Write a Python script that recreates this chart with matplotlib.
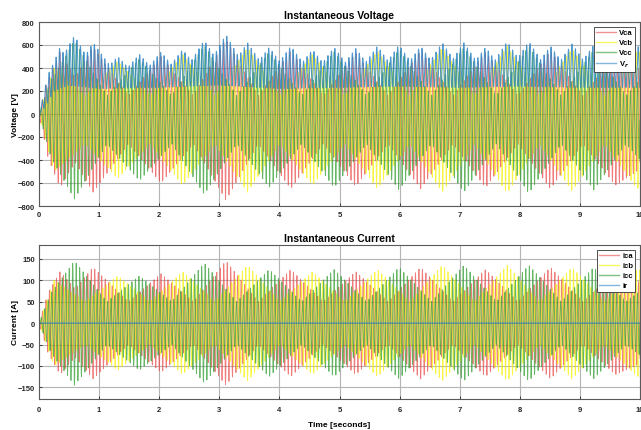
import numpy as np
import matplotlib
matplotlib.use("Agg")
import matplotlib.pyplot as plt

plt.rcParams['font.family'] = ['Liberation Sans', 'DejaVu Sans']
plt.rcParams['font.weight'] = 'bold'

# ---- data ----
# period of the fast oscillation of each trace (s), read from spike spacing
carrier_period = 0.058
t_end = 10.0

# current envelopes (A): (time, amplitude) keypoints per phase
ica_env_t = [0, 0.15, 0.35, 0.6, 0.9, 1.49, 2.03, 2.57, 3.11, 3.65, 4.19, 4.73, 5.27, 5.81, 6.35, 6.89, 7.43, 7.97, 8.51, 9.05, 9.59, 10]
ica_env_v = [0, 70, 120, 80, 130, 50, 115, 50, 145, 50, 125, 50, 120, 50, 130, 50, 125, 50, 130, 50, 120, 95]
icb_env_t = [0, 0.25, 0.77, 1.31, 1.85, 2.39, 2.93, 3.47, 4.01, 4.55, 5.09, 5.63, 6.17, 6.71, 7.25, 7.79, 8.33, 8.87, 9.41, 9.95, 10]
icb_env_v = [0, 100, 50, 110, 50, 120, 50, 135, 50, 120, 50, 125, 50, 135, 50, 135, 50, 130, 50, 125, 124]
icc_env_t = [0, 0.2, 0.59, 1.13, 1.67, 2.21, 2.75, 3.29, 3.83, 4.37, 4.91, 5.45, 5.99, 6.53, 7.07, 7.61, 8.15, 8.69, 9.23, 9.77, 10]
icc_env_v = [0, 70, 145, 50, 110, 50, 140, 50, 125, 50, 125, 50, 130, 50, 135, 50, 135, 50, 130, 50, 75]
ir_level = [0.0, 0.0]

# voltage envelopes (V): magnitude of the negative peaks per phase
vca_env_t = ica_env_t
vca_env_v = [0, 380, 640, 420, 680, 260, 600, 260, 750, 260, 650, 260, 630, 260, 650, 260, 640, 260, 650, 260, 620, 480]
vcb_env_t = icb_env_t
vcb_env_v = [0, 500, 260, 560, 260, 620, 260, 680, 260, 620, 260, 650, 260, 680, 260, 690, 260, 670, 260, 650, 640]
vcc_env_t = icc_env_t
vcc_env_v = [0, 380, 740, 260, 580, 260, 700, 260, 640, 260, 640, 260, 660, 260, 680, 260, 690, 260, 660, 260, 400]
vc_offset = -50          # phase voltages sit slightly below zero

# Vr: its peaks sit this far below the deepest phase trough; lower envelope (V)
vr_peak_gap = 60
vr_bot_t = [0, 0.1, 0.25, 0.5, 1.0, 2.0, 3.0, 4.0, 5.0, 6.0, 7.0, 8.0, 9.0, 10]
vr_bot_v = [0, 60, 200, 250, 220, 230, 250, 220, 230, 240, 230, 240, 230, 230]

v_ticks = [-800, -600, -400, -200, 0, 200, 400, 600, 800]
i_ticks = [-150, -100, -50, 0, 50, 100, 150]
x_ticks = [0, 1, 2, 3, 4, 5, 6, 7, 8, 9, 10]

colors = {'a': '#ea4a48', 'b': '#f6f200', 'c': '#2a9a2a', 'r': '#2f86c6'}

# ---- build waveforms ----
t = np.linspace(0, t_end, 20001)
w = 2 * np.pi / carrier_period

def envelope(env_t, env_v):
    return np.interp(t, env_t, env_v)

def phase_wave(env, k, off=0.0):
    ramp = np.minimum(t / 0.25, 1.0)
    amp = np.maximum(env + off * ramp, 0)
    return amp * np.cos(w * t - 2 * np.pi * k / 3) + off * ramp

ea = envelope(vca_env_t, vca_env_v)
eb = envelope(vcb_env_t, vcb_env_v)
ec = envelope(vcc_env_t, vcc_env_v)
vca = phase_wave(ea, 0, vc_offset)
vcb = phase_wave(eb, 1, vc_offset)
vcc = phase_wave(ec, 2, vc_offset)
top = np.maximum(np.maximum(np.maximum(ea, eb), ec) - vr_peak_gap * np.minimum(t / 0.25, 1.0), 0)
bot = np.minimum(envelope(vr_bot_t, vr_bot_v), top)
vr = (top + bot) / 2 + (top - bot) / 2 * np.cos(w * t + 0.7)

ica = phase_wave(envelope(ica_env_t, ica_env_v), 0)
icb = phase_wave(envelope(icb_env_t, icb_env_v), 1)
icc = phase_wave(envelope(icc_env_t, icc_env_v), 2)
ir = np.interp(t, [0, t_end], ir_level)

# ---- figure ----
W, H = 641, 431
fig = plt.figure(figsize=(W / 100, H / 100), dpi=100)
ax1 = fig.add_axes([39 / W, 1 - 207 / H, 601 / W, 184 / H])
ax2 = fig.add_axes([39 / W, 1 - 400 / H, 601 / W, 154 / H])

lw = 0.6
al = 0.72

def style(ax, xpad):
    ax.set_xlim(0, 10)
    ax.set_xticks(x_ticks)
    ax.grid(True, color='#b4b4b4', lw=0.8)
    ax.set_axisbelow(True)
    for s in ax.spines.values():
        s.set_color('#5a5a5a')
        s.set_linewidth(0.8)
    ax.tick_params(direction='in', length=2.5, width=0.6, colors='#262626',
                   labelsize=5.5, pad=3)
    ax.tick_params(axis='x', pad=xpad)
    for lab in ax.get_xticklabels() + ax.get_yticklabels():
        lab.set_fontweight('bold')

def legend(ax):
    leg = ax.legend(loc='upper right', fontsize=5.5, frameon=True, fancybox=False,
                    edgecolor='#333333', framealpha=1, handlelength=2.6,
                    borderpad=0.3, labelspacing=0.35, handletextpad=0.4,
                    borderaxespad=0.6)
    leg.get_frame().set_linewidth(0.6)
    for tx in leg.get_texts():
        tx.set_fontweight('bold')
    for ln in leg.get_lines():
        ln.set_linewidth(1.0)
        ln.set_alpha(0.6)

ax1.plot(t, vca, color=colors['a'], lw=lw, alpha=al, label='Vca')
ax1.plot(t, vcb, color=colors['b'], lw=lw, alpha=al, label='Vcb')
ax1.plot(t, vcc, color=colors['c'], lw=lw, alpha=al, label='Vcc')
ax1.plot(t, vr, color=colors['r'], lw=0.7, alpha=0.85, label='V$_r$')
ax1.set_ylim(-800, 800)
ax1.set_yticks(v_ticks)
style(ax1, 3.5)
ax1.set_title('Instantaneous Voltage', fontsize=7.5, fontweight='bold', pad=3)
ax1.set_ylabel('Voltage [V]', fontsize=6, fontweight='bold', labelpad=-1)
legend(ax1)

ax2.plot(t, ica, color=colors['a'], lw=lw, alpha=al, label='ica')
ax2.plot(t, icb, color=colors['b'], lw=lw, alpha=al, label='icb')
ax2.plot(t, icc, color=colors['c'], lw=lw, alpha=al, label='icc')
ax2.plot(t, ir, color=colors['r'], lw=0.8, alpha=0.85, label='ir')
ax2.set_ylim(-177, 182)
ax2.set_yticks(i_ticks)
style(ax2, 5)
ax2.set_title('Instantaneous Current', fontsize=7.5, fontweight='bold', pad=3)
ax2.set_ylabel('Current [A]', fontsize=6, fontweight='bold', labelpad=-1)
ax2.set_xlabel('Time [seconds]', fontsize=6, fontweight='bold', labelpad=5.5)
legend(ax2)

fig.savefig('out.png', dpi=100)
